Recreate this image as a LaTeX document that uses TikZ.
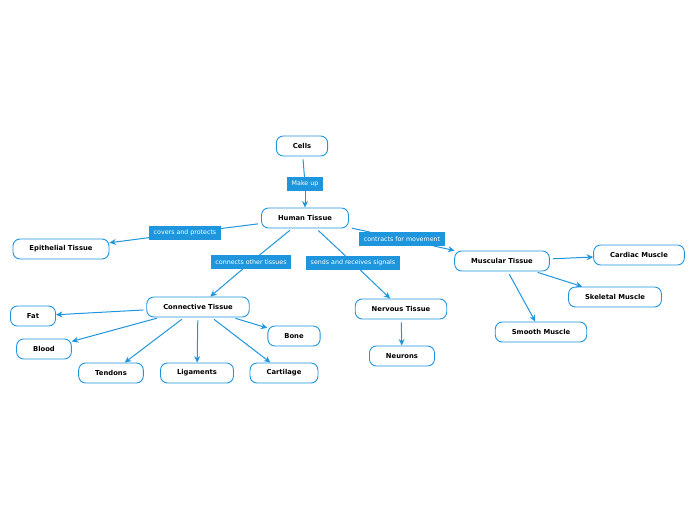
\documentclass[tikz,border=0pt]{standalone}
\usepackage{fontspec}
\setmainfont{DejaVu Sans}
\usepackage{xcolor}
\usetikzlibrary{arrows.meta, positioning}
\definecolor{mapblue}{RGB}{30,150,222}

\begin{document}
\begin{tikzpicture}[x=1pt, y=-1pt,
        topic/.style={
                rectangle,
                rounded corners=7pt,
                draw=mapblue,
                line width=0.9pt,
                fill=white,
                minimum height=20pt,
                inner xsep=16.5pt,
                font=\fontsize{6.8}{7}\selectfont\bfseries,
        },
        tag/.style={
                rectangle,
                fill=mapblue,
                text=white,
                inner xsep=4.5pt,
                minimum height=13.5pt,
                font=\fontsize{6.3}{7}\selectfont,
        },
        link/.style={draw=mapblue, line width=1pt, shorten <=3pt},
        linkto/.style={link, -{Stealth[length=6.5pt, width=6pt]}},
        ]
    \useasboundingbox (0,0) rectangle (696,520);
    % topics
    \node[topic] (cells) at (302,146) {Cells};
    \node[topic] (human) at (305,218) {Human Tissue};
    \node[topic] (epithelial) at (61,249) {Epithelial Tissue};
    \node[topic] (connective) at (198,307) {Connective Tissue};
    \node[topic] (nervous) at (401,309) {Nervous Tissue};
    \node[topic] (muscular) at (502,261) {Muscular Tissue};
    \node[topic] (cardiac) at (639,255) {Cardiac Muscle};
    \node[topic] (skeletal) at (615,297) {Skeletal Muscle};
    \node[topic] (smooth) at (541,332) {Smooth Muscle};
    \node[topic] (neurons) at (402,356) {Neurons};
    \node[topic] (fat) at (33,316) {Fat};
    \node[topic] (blood) at (44,349) {Blood};
    \node[topic] (tendons) at (111,373) {Tendons};
    \node[topic] (ligaments) at (197,373) {Ligaments};
    \node[topic] (cartilage) at (284,373) {Cartilage};
    \node[topic] (bone) at (294,336) {Bone};
    % relation tags
    \node[tag] (makeup) at (305,184) {Make up};
    \node[tag] (covers) at (185,233) {covers and protects};
    \node[tag] (connects) at (251,262) {connects other tissues};
    \node[tag] (signals) at (353,263) {sends and receives signals};
    \node[tag] (contracts) at (402,239) {contracts for movement};
    % links through tags
    \draw[link] (cells) -- (makeup);
    \draw[linkto, shorten <=0pt] (makeup) -- (human);
    \draw[link] (human) -- (covers);
    \draw[linkto, shorten <=0pt] (covers) -- (epithelial);
    \draw[link] (human) -- (connects);
    \draw[linkto, shorten <=0pt] (connects) -- (connective);
    \draw[link] (human) -- (signals);
    \draw[linkto, shorten <=0pt] (signals) -- (nervous);
    \draw[link] (human) -- (contracts);
    \draw[linkto, shorten <=0pt] (contracts) -- (muscular);
    % plain links
    \foreach \from/\to in {muscular/cardiac, muscular/skeletal, muscular/smooth,
                           nervous/neurons, connective/fat, connective/blood,
                           connective/tendons, connective/ligaments,
                           connective/cartilage, connective/bone}
        \draw[linkto] (\from) -- (\to);
\end{tikzpicture}
\end{document}
